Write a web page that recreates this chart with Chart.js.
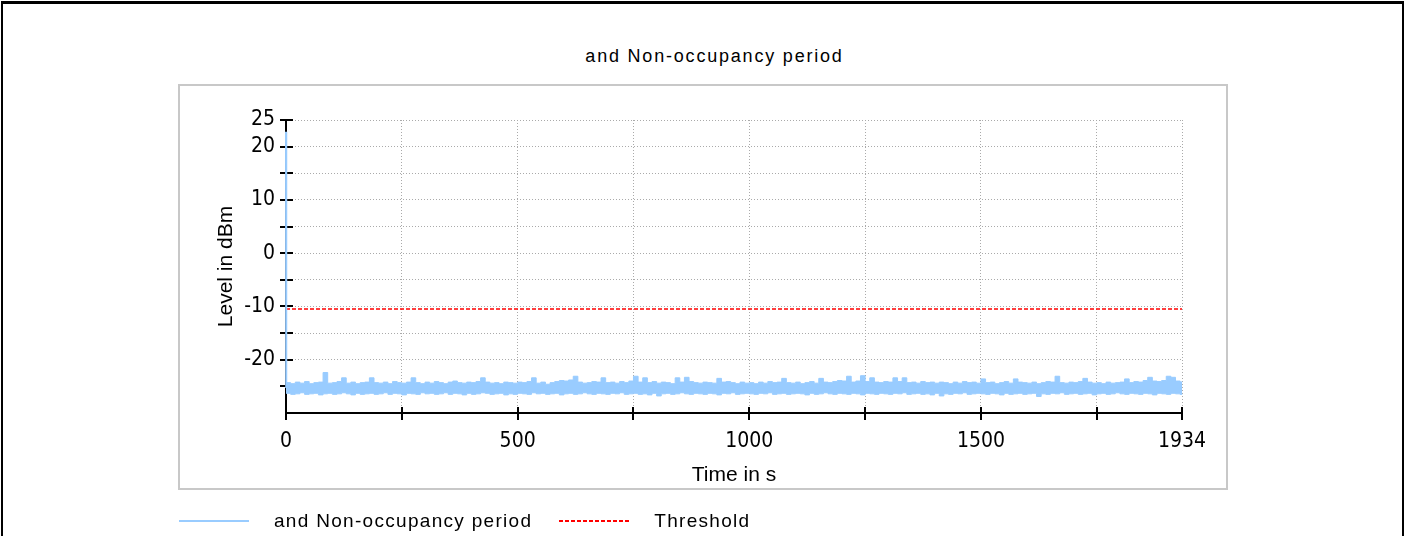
<!DOCTYPE html>
<html lang="en">
<head>
  <meta charset="UTF-8">
  <title>and Non-occupancy period</title>
  <script src="https://cdn.jsdelivr.net/npm/chart.js"></script>
  <style>
    body {
      margin: 0;
      width: 1409px;
      height: 536px;
      position: relative;
      overflow: hidden;
      background: #fff;
      font-family: 'Liberation Sans', Arial, sans-serif;
    }

    /* outer black frame, bottom edge is off screen */
    .frame {
      position: absolute;
      left: 1px;
      top: 1px;
      width: 1399px;
      height: 620px;
      border-top: 3px solid #000;
      border-left: 2px solid #000;
      border-right: 2px solid #000;
    }

    /* grey box round the plot */
    .plot-box {
      position: absolute;
      left: 178px;
      top: 84px;
      width: 1046px;
      height: 402px;
      border: 2px solid #c8c8c8;
    }

    .chart-title {
      position: absolute;
      top: 46px;
      left: 10px;
      width: 1409px;
      text-align: center;
      font-size: 18px;
      line-height: 20px;
      letter-spacing: 1.8px;
      color: #000;
    }

    canvas {
      position: absolute;
      left: 0;
      top: 0;
    }

    .legend {
      position: absolute;
      left: 179px;
      top: 510px;
      height: 22px;
      display: flex;
      align-items: center;
      font-size: 19px;
      letter-spacing: 1.3px;
      color: #000;
    }
    .legend .swatch {
      width: 70px;
      margin-right: 25px;
      background-repeat: repeat-x;
    }
    .legend .item {
      display: flex;
      align-items: center;
      margin-right: 27px;
    }
  </style>
</head>
<body>
  <div class="frame"></div>
  <div class="plot-box"></div>
  <div class="chart-title" id="chartTitle"></div>
  <canvas id="levelChart" width="1409" height="536"></canvas>
  <div class="legend" id="legend"></div>

  <script>
    const chartTitle = 'and Non-occupancy period';
    const seriesLabel = 'and Non-occupancy period';
    const thresholdLabel = 'Threshold';

    // measurement runs 0..1934 s, envelope read every 10 s
    const sampleStep = 10;
    const endTime = 1934;

    // peak of the burst right at t = 0
    const spikeLevel = 22.8;
    const thresholdLevel = -10.5;

    // upper edge of the noise band (dBm)
    const upperLevels = [
      -24.3, -24.5, -24.2, -24.4, -24.1, -24.5, -24.3, -24.2, -22.4, -24.4,
      -24.3, -24.1, -23.4, -24.4, -24.2, -24.5, -24.3, -24.2, -23.4, -24.3,
      -24.4, -24.2, -24.5, -24.1, -24.3, -24.4, -24.2, -23.4, -24.3, -24.5,
      -24.2, -24.4, -24.1, -24.3, -24.5, -24.2, -24.0, -24.3, -24.4, -24.2,
      -24.3, -24.1, -23.4, -24.2, -24.4, -24.3, -24.5, -24.2, -24.3, -24.4,
      -24.2, -24.3, -24.1, -23.4, -24.4, -24.2, -24.6, -24.3, -24.1, -23.9,
      -24.0, -23.8, -23.1, -24.2, -24.4, -24.3, -24.1, -24.2, -23.4, -24.3,
      -24.2, -24.4, -24.1, -24.3, -24.0, -23.1, -24.2, -23.4, -24.3, -24.1,
      -24.4, -24.2, -24.3, -24.5, -23.4, -24.2, -23.3, -24.1, -24.3, -24.4,
      -24.2, -24.3, -24.4, -23.5, -24.2, -24.1, -24.3, -24.5, -24.2, -24.4,
      -24.3, -24.5, -24.2, -24.4, -24.1, -24.3, -24.2, -23.5, -24.3, -24.4,
      -24.2, -24.5, -24.3, -24.1, -24.4, -23.5, -24.2, -24.3, -24.1, -23.9,
      -24.0, -23.1, -24.2, -24.0, -23.0, -24.1, -23.4, -24.2, -24.3, -24.1,
      -24.2, -23.4, -24.1, -23.4, -24.3, -24.2, -24.4, -24.1, -24.3, -24.2,
      -24.4, -24.2, -24.3, -24.5, -24.2, -24.4, -24.1, -24.3, -24.2, -24.4,
      -23.6, -24.3, -24.2, -24.5, -24.3, -24.1, -24.4, -23.6, -24.2, -24.3,
      -24.4, -24.2, -24.5, -24.3, -24.1, -24.2, -23.1, -24.3, -24.4, -24.2,
      -24.3, -24.1, -23.5, -24.2, -24.4, -24.3, -24.5, -24.2, -24.4, -24.3,
      -24.2, -23.6, -24.3, -24.1, -24.2, -23.9, -23.3, -24.0, -24.1, -23.9,
      -23.1, -23.3, -24.0, -24.2, -24.1
    ];

    // lower edge of the noise band (dBm)
    const lowerLevels = [
      -26.3, -26.5, -26.4, -26.2, -26.5, -26.4, -26.3, -26.6, -26.4, -26.3,
      -26.5, -26.4, -26.2, -26.4, -26.6, -26.3, -26.5, -26.4, -26.3, -26.5,
      -26.4, -26.2, -26.5, -26.3, -26.4, -26.6, -26.3, -26.4, -26.5, -26.2,
      -26.4, -26.3, -26.5, -26.4, -26.2, -26.5, -26.3, -26.4, -26.6, -26.3,
      -26.5, -26.4, -26.2, -26.3, -26.5, -26.4, -26.3, -26.6, -26.4, -26.5,
      -26.3, -26.4, -26.5, -26.2, -26.4, -26.3, -26.5, -26.4, -26.3, -26.6,
      -26.4, -26.3, -26.5, -26.4, -26.2, -26.4, -26.5, -26.3, -26.4, -26.5,
      -26.3, -26.4, -26.2, -26.5, -26.4, -26.3, -26.5, -26.4, -26.6, -26.3,
      -26.8, -26.4, -26.3, -26.5, -26.4, -26.2, -26.4, -26.5, -26.3, -26.4,
      -26.5, -26.3, -26.4, -26.6, -26.3, -26.4, -26.2, -26.5, -26.4, -26.3,
      -26.4, -26.5, -26.3, -26.4, -26.2, -26.5, -26.4, -26.3, -26.5, -26.4,
      -26.3, -26.4, -26.6, -26.3, -26.5, -26.4, -26.2, -26.4, -26.5, -26.3,
      -26.4, -26.5, -26.3, -26.4, -26.6, -26.3, -26.4, -26.5, -26.3, -26.4,
      -26.5, -26.3, -26.4, -26.2, -26.5, -26.4, -26.3, -26.5, -26.4, -26.6,
      -26.3, -26.8, -26.4, -26.5, -26.3, -26.4, -26.2, -26.5, -26.4, -26.3,
      -26.4, -26.5, -26.3, -26.4, -26.6, -26.3, -26.5, -26.4, -26.3, -26.5,
      -26.4, -26.3, -26.9, -26.4, -26.5, -26.3, -26.4, -26.2, -26.5, -26.4,
      -26.3, -26.5, -26.4, -26.3, -26.6, -26.4, -26.3, -26.5, -26.4, -26.2,
      -26.4, -26.5, -26.3, -26.4, -26.5, -26.3, -26.4, -26.6, -26.3, -26.4,
      -26.5, -26.3, -26.4, -26.5, -26.4
    ];

    const xTickValues = [0, 250, 500, 750, 1000, 1250, 1500, 1750, 1934];
    const xTickLabels = [0, 500, 1000, 1500, 1934];
    const yTickValues = [25, 20, 15, 10, 5, 0, -5, -10, -15, -20, -25, -30];
    const yTickLabels = [25, 20, 10, 0, -10, -20];

    const bandColor = '#99ccff';
    const thresholdColor = '#ff0000';
    const tickFont = { family: "'Liberation Sans Narrow', 'DejaVu Sans Condensed', sans-serif", size: 21 };
    const axisTitleFont = { family: "'Liberation Sans', Arial, sans-serif", size: 21 };

    const sampleTimes = upperLevels.map((_, i) => Math.min(i * sampleStep, endTime));
    const toPoints = levels => levels.map((y, i) => ({ x: sampleTimes[i], y: y }));

    // black axis lines with ticks crossing them (drawn under the data)
    const axisPlugin = {
      id: 'crossTicks',
      beforeDatasetsDraw(chart) {
        const { ctx, scales: { x, y } } = chart;
        const x0 = x.getPixelForValue(0);
        const x1 = x.getPixelForValue(endTime);
        const yTop = y.getPixelForValue(25);
        const yBottom = y.getPixelForValue(-30);
        ctx.save();
        ctx.strokeStyle = '#000';
        ctx.lineWidth = 2;
        ctx.setLineDash([]);
        ctx.beginPath();
        ctx.moveTo(x0, yTop);
        ctx.lineTo(x0, yBottom + 1);
        ctx.moveTo(x0 - 1, yBottom);
        ctx.lineTo(x1 + 1, yBottom);
        yTickValues.forEach(v => {
          if (v === -30) return;
          const py = Math.round(y.getPixelForValue(v));
          ctx.moveTo(x0 - 6, py);
          ctx.lineTo(x0 + 7, py);
        });
        xTickValues.forEach(v => {
          const px = Math.round(x.getPixelForValue(v));
          ctx.moveTo(px, yBottom - 6);
          ctx.lineTo(px, yBottom + 7);
        });
        ctx.stroke();
        ctx.restore();
      }
    };

    const ctx = document.getElementById('levelChart').getContext('2d');
    const levelChart = new Chart(ctx, {
      type: 'line',
      data: {
        datasets: [
          {
            label: 'burst',
            data: [{ x: 0, y: spikeLevel }, { x: 0.5, y: lowerLevels[0] + 1 }],
            borderColor: bandColor,
            borderWidth: 2,
            pointRadius: 0,
            clip: 4,
            showInLegend: false
          },
          {
            label: seriesLabel,
            data: toPoints(upperLevels),
            borderColor: bandColor,
            backgroundColor: bandColor,
            borderWidth: 1,
            stepped: true,
            fill: '+1',
            pointRadius: 0,
            clip: 4,
            legendLine: 'solid',
            showInLegend: true
          },
          {
            label: 'lower edge',
            data: toPoints(lowerLevels),
            borderColor: bandColor,
            borderWidth: 1,
            stepped: true,
            pointRadius: 0,
            clip: 4,
            showInLegend: false
          },
          {
            label: thresholdLabel,
            data: [{ x: 0, y: thresholdLevel }, { x: endTime, y: thresholdLevel }],
            borderColor: thresholdColor,
            borderWidth: 1.5,
            borderDash: [4, 2],
            pointRadius: 0,
            legendLine: 'dashed',
            showInLegend: true
          }
        ]
      },
      options: {
        responsive: false,
        animation: false,
        devicePixelRatio: 1,
        layout: {
          padding: { left: 214, top: 120, right: 227, bottom: 48 }
        },
        plugins: {
          legend: { display: false },
          title: { display: false },
          tooltip: { enabled: false }
        },
        scales: {
          x: {
            type: 'linear',
            min: 0,
            max: endTime,
            afterBuildTicks: scale => {
              scale.ticks = xTickValues.map(v => ({ value: v }));
            },
            afterFit: scale => {
              scale.height = 75;
            },
            ticks: {
              autoSkip: false,
              maxRotation: 0,
              padding: 16,
              color: '#000',
              font: tickFont,
              callback: v => (xTickLabels.includes(v) ? String(v) : '')
            },
            grid: {
              color: '#aaaaaa',
              lineWidth: 1,
              drawTicks: false
            },
            border: { display: false, dash: [1, 2] },
            title: {
              display: true,
              text: 'Time in s',
              color: '#000',
              font: axisTitleFont,
              padding: 0
            }
          },
          y: {
            type: 'linear',
            min: -30,
            max: 25,
            afterBuildTicks: scale => {
              scale.ticks = yTickValues.map(v => ({ value: v }));
            },
            afterFit: scale => {
              scale.width = 72;
            },
            ticks: {
              autoSkip: false,
              padding: 11,
              color: '#000',
              font: tickFont,
              callback: v => (yTickLabels.includes(v) ? String(v) : '')
            },
            grid: {
              color: '#aaaaaa',
              lineWidth: 1,
              drawTicks: false
            },
            border: { display: false, dash: [1, 2] },
            title: {
              display: true,
              text: 'Level in dBm',
              color: '#000',
              font: axisTitleFont,
              padding: 0
            }
          }
        }
      },
      plugins: [axisPlugin]
    });

    // title and legend as html, built from the chart's datasets
    document.getElementById('chartTitle').textContent = chartTitle;
    const legendEl = document.getElementById('legend');
    levelChart.data.datasets.filter(ds => ds.showInLegend).forEach(ds => {
      const item = document.createElement('div');
      item.className = 'item';
      const swatch = document.createElement('span');
      swatch.className = 'swatch';
      if (ds.legendLine === 'dashed') {
        swatch.style.height = '2px';
        swatch.style.backgroundImage = `linear-gradient(to right, ${ds.borderColor} 4px, rgba(255,255,255,0) 4px)`;
        swatch.style.backgroundSize = '6px 2px';
      } else {
        swatch.style.height = '2px';
        swatch.style.backgroundColor = ds.borderColor;
      }
      const text = document.createElement('span');
      text.textContent = ds.label;
      item.appendChild(swatch);
      item.appendChild(text);
      legendEl.appendChild(item);
    });
  </script>
</body>
</html>
